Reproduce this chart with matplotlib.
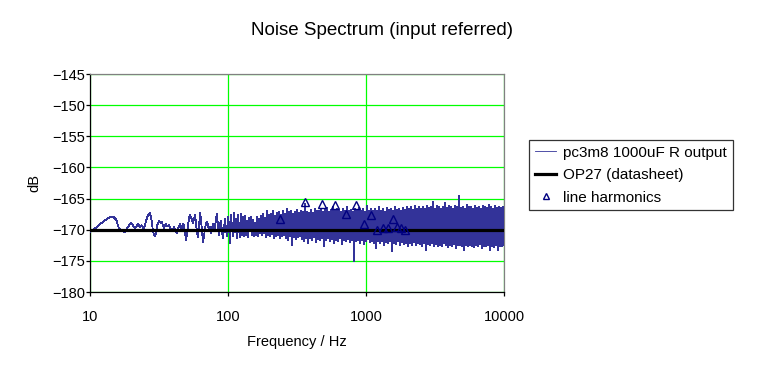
import numpy as np
import matplotlib
matplotlib.use("Agg")
import matplotlib.pyplot as plt

plt.rcParams['font.family'] = ['Liberation Sans', 'DejaVu Sans']

# ---- data ----
# low-frequency part of the measured spectrum (Hz, dB)
low_freq = [10, 11, 12, 13, 14, 14.7, 15.5, 16.2, 17, 17.9, 18.8, 19.8, 20.6,
            21.2, 22.3, 23.0, 23.7, 24.5, 25.5, 26.3, 27.1]
low_db = [-170.4, -169.7, -169.0, -168.4, -168.0, -167.9, -168.4, -169.8, -170.1,
          -170.4, -169.6, -168.9, -169.4, -169.8, -169.0, -169.6, -169.3, -169.9,
          -168.6, -167.7, -167.3]

# decimated spectrum from 27.7 Hz to 10 kHz (log-spaced points)
dense_start, dense_stop = 27.7, 10000.0
dense_db = [
    -168.0, -169.2, -170.3, -170.9, -171.1, -170.5, -169.3, -168.9, -168.6, -168.8,
    -169.0, -168.8, -169.4, -169.7, -169.2, -169.0, -169.5, -169.4, -169.3, -169.8,
    -170.0, -170.3, -169.9, -169.6, -170.0, -170.3, -170.6, -169.8, -169.4, -169.0,
    -170.2, -169.5, -169.0, -169.4, -170.5, -171.6, -170.5, -169.2, -168.1, -167.6,
    -168.0, -168.5, -168.9, -168.2, -167.6, -169.0, -170.5, -171.2, -169.5, -167.3,
    -168.5, -170.2, -172.0, -171.0, -169.8, -169.0, -168.7, -169.2, -170.2, -169.6,
    -170.6, -169.8, -169.0, -170.3, -169.5, -168.2, -167.4, -169.8, -170.8, -169.1,
    -168.6, -170.5, -171.3, -169.7, -168.3, -170.2, -171.0, -167.9, -169.4, -172.2,
    -167.6, -169.8, -171.1, -167.3, -170.4, -168.2, -171.4, -167.6, -169.9, -171.2,
    -167.5, -170.8, -168.0, -171.0, -167.8, -170.9, -168.6, -171.2, -168.1, -170.3,
    -167.9, -170.9, -168.4, -171.0, -168.9, -170.8, -168.0, -171.1, -168.3, -170.6,
    -167.8, -170.9, -167.4, -170.6, -168.1, -171.2, -167.0, -170.8, -167.6, -171.0,
    -167.5, -170.7, -166.9, -171.3, -167.8, -171.0, -167.3, -170.8, -167.1, -171.4,
    -167.6, -171.1, -167.0, -170.9, -167.4, -171.3, -166.7, -171.6, -167.2, -171.0,
    -167.0, -172.4, -167.5, -171.2, -167.1, -171.5, -166.8, -171.2, -167.3, -171.1,
    -166.9, -171.5, -167.2, -171.8, -165.9, -171.3, -167.1, -172.2, -167.3, -171.4,
    -166.8, -171.6, -167.3, -171.2, -166.7, -172.0, -167.0, -171.5, -166.9, -171.7,
    -166.6, -171.3, -167.2, -172.6, -166.8, -171.6, -166.5, -171.4, -167.1, -171.9,
    -166.8, -171.5, -166.4, -172.1, -167.0, -171.6, -166.6, -171.8, -166.9, -171.3,
    -167.1, -172.3, -166.6, -171.6, -167.0, -171.9, -166.3, -171.5, -167.0, -172.0,
    -166.8, -171.6, -167.2, -175.0, -166.7, -171.9, -167.0, -171.6, -166.5, -172.2,
    -166.9, -171.7, -166.6, -172.3, -167.2, -171.8, -166.2, -171.5, -166.9, -172.0,
    -166.7, -171.9, -167.0, -172.2, -166.6, -173.0, -166.9, -171.9, -166.4, -172.1,
    -166.9, -171.8, -166.7, -172.4, -167.1, -172.0, -166.5, -172.2, -166.8, -171.9,
    -166.6, -173.5, -166.9, -172.1, -166.3, -172.3, -166.8, -171.9, -166.6, -172.5,
    -166.9, -172.0, -166.5, -172.3, -166.8, -172.1, -166.3, -172.6, -166.7, -172.2,
    -166.4, -172.4, -166.8, -172.0, -166.2, -172.5, -166.6, -172.2, -166.3, -172.3,
    -166.7, -172.6, -166.4, -172.1, -166.6, -173.3, -166.2, -172.3, -166.5, -172.5,
    -166.3, -172.2, -165.5, -172.6, -166.6, -172.3, -166.2, -172.7, -166.4, -172.4,
    -166.6, -172.6, -166.3, -172.2, -165.7, -172.5, -166.5, -172.8, -166.2, -172.4,
    -166.4, -172.6, -166.6, -172.3, -166.2, -172.9, -166.3, -172.5, -164.6, -172.4,
    -166.5, -172.6, -166.3, -173.3, -166.6, -172.5, -166.0, -172.7, -166.4, -172.4,
    -166.3, -172.6, -166.7, -172.8, -166.2, -172.5, -166.5, -172.7, -166.3, -172.3,
    -166.6, -172.9, -166.1, -172.6, -166.4, -172.7, -166.5, -172.4, -166.0, -173.2,
    -166.4, -172.6, -166.6, -172.8, -166.2, -172.5, -166.5, -173.3, -166.3, -172.6,
    -166.5, -172.7, -166.4, -172.5,
]

# OP27 datasheet noise floor
op27_freq = [10, 10000]
op27_db = [-170.0, -170.0]

# line harmonics (60 Hz multiples)
harm_freq = [240, 360, 480, 600, 720, 840, 960, 1080, 1200, 1320, 1440, 1560,
             1680, 1800, 1920]
harm_db = [-168.3, -165.5, -165.8, -166.1, -167.5, -166.0, -169.1, -167.7,
           -170.0, -169.8, -169.8, -168.3, -169.5, -169.7, -170.1]

series_labels = ['pc3m8 1000uF R output', 'OP27 (datasheet)', 'line harmonics']
y_ticks = [-180, -175, -170, -165, -160, -155, -150, -145]
x_ticks = [10, 100, 1000, 10000]

# ---- plot ----
freq = np.concatenate([low_freq, np.geomspace(dense_start, dense_stop, len(dense_db))])
db = np.concatenate([low_db, dense_db])

fig = plt.figure(figsize=(7.6, 3.7), dpi=100)
ax = fig.add_axes([90 / 760, 78 / 370, 414 / 760, 218 / 370])

ax.plot(freq, db, color='#333399', lw=0.6, label=series_labels[0], zorder=3,
        antialiased=False)
ax.plot(op27_freq, op27_db, color='black', lw=2.3, label=series_labels[1], zorder=4)
ax.plot(harm_freq, harm_db, ls='none', marker='^', ms=6, mfc='none',
        mec='#000080', mew=1.0, label=series_labels[2], zorder=5)

ax.set_xscale('log')
ax.set_xlim(10, 10000)
ax.set_ylim(-180, -145)
ax.set_xticks(x_ticks)
ax.set_xticklabels([str(t) for t in x_ticks])
ax.xaxis.set_minor_locator(matplotlib.ticker.NullLocator())
ax.set_yticks(y_ticks)
ax.set_yticklabels(['\u2212' + str(abs(t)) for t in y_ticks])

ax.grid(True, which='major', color='#00FF00', lw=0.9, zorder=1)
ax.set_axisbelow(True)

for s in ['top', 'right']:
    ax.spines[s].set_color('#808080')
    ax.spines[s].set_linewidth(0.9)
for s in ['left', 'bottom']:
    ax.spines[s].set_color('black')
    ax.spines[s].set_linewidth(0.9)

ax.tick_params(direction='out', length=3, width=0.9, labelsize=10.5,
               colors='black')
ax.tick_params(axis='y', pad=0.5)
ax.tick_params(axis='x', pad=10)

ax.set_xlabel('Frequency / Hz', fontsize=10.5, labelpad=8)
ax.set_ylabel('dB', fontsize=10.5, labelpad=8)
fig.text(0.503, 0.918, 'Noise Spectrum (input referred)', ha='center', va='center',
         fontsize=13.5)

leg = ax.legend(loc='upper left', bbox_to_anchor=(529 / 760, 1 - 140 / 370),
                bbox_transform=fig.transFigure, frameon=True, fancybox=False,
                edgecolor='black', fontsize=11, handlelength=1.4,
                handletextpad=0.45, borderpad=0.38, labelspacing=0.55,
                borderaxespad=0, markerscale=0.7)
leg.get_frame().set_linewidth(0.9)

fig.savefig('out.png', dpi=100, facecolor='white')
